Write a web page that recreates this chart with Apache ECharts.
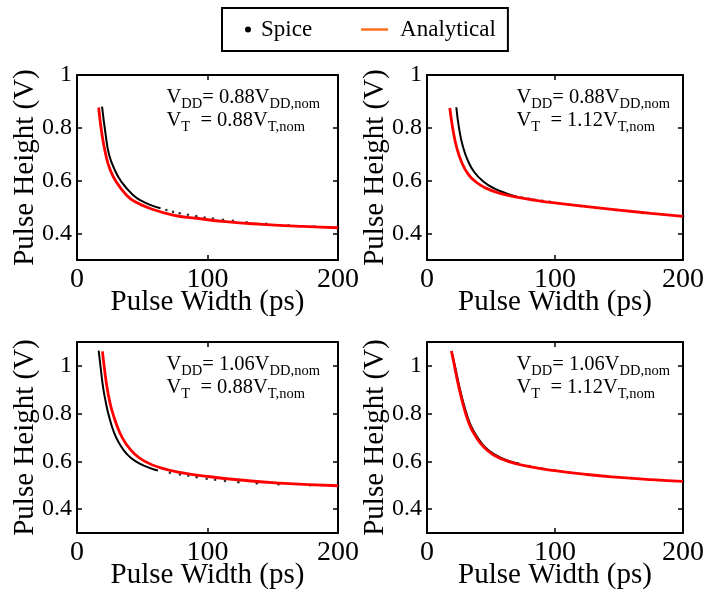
<!DOCTYPE html>
<html>
<head>
<meta charset="utf-8">
<script src="https://cdn.jsdelivr.net/npm/echarts@6/dist/echarts.min.js"></script>
<style>
  html, body { margin: 0; padding: 0; background: #fff; }
  #chart { width: 707px; height: 593px; }
</style>
</head>
<body>
<div id="chart"></div>
<script>
// Axis ticks
const xTicks = [0, 100, 200];
const yTicks = [0.4, 0.6, 0.8, 1];
const yMaxTop = 1;
const yMaxBottom = 1.1;
const yMin = 0.3;

// Supply / threshold scaling factors for the four corners
const vddFactors = ['0.88', '0.88', '1.06', '1.06'];
const vtFactors = ['0.88', '1.12', '0.88', '1.12'];

// Panel A: VDD = 0.88 VDD,nom, VT = 0.88 VT,nom  [pulse width (ps), pulse height (V)]
const analyticalA = [[16.6,0.877],[19.2,0.773],[22,0.70],[25,0.647],[30,0.596],[37.8,0.546],[44.2,0.521],[55.7,0.496],[73.6,0.470],[91.4,0.458],[114,0.445],[142,0.435],[173,0.427],[200,0.422]];
const spiceLineA = [[19.2,0.880],[22,0.773],[24.5,0.70],[28.4,0.647],[34,0.596],[42.9,0.546],[50.6,0.521],[58,0.505],[64,0.496]];
const spiceDotsA = [[68.5,0.489],[73.6,0.482],[78.7,0.477],[85,0.471],[91.4,0.466],[97.8,0.461],[104.2,0.457],[111.9,0.452],[119.5,0.448],[130,0.443],[145,0.437],[162,0.431],[182,0.427],[200,0.423]];

// Panel B: VDD = 0.88 VDD,nom, VT = 1.12 VT,nom
const analyticalB = [[17.8,0.875],[20.4,0.79],[23.5,0.72],[27,0.671],[32,0.626],[38,0.596],[46,0.572],[57,0.552],[70,0.538],[85,0.526],[100,0.516],[125,0.502],[150,0.489],[175,0.4765],[200,0.465]];
const spiceLineB = [[22.9,0.878],[25,0.80],[28,0.73],[32,0.675],[37,0.632],[44,0.597],[52,0.572],[62,0.552],[70,0.540]];
const spiceDotsB = [[74,0.536],[79,0.532],[84,0.528],[90,0.524],[96,0.520],[103,0.515],[111,0.510],[120,0.504],[132,0.497],[148,0.489],[168,0.478],[200,0.466]];

// Panel C: VDD = 1.06 VDD,nom, VT = 0.88 VT,nom
const analyticalC = [[19.5,1.061],[21,0.99],[23,0.91],[25.1,0.85],[27.5,0.80],[32.8,0.72],[38,0.67],[44,0.632],[52,0.60],[63.5,0.574],[80,0.553],[100,0.537],[125,0.522],[155,0.509],[200,0.498]];
const spiceLineC = [[16.6,1.064],[18.2,0.99],[20,0.91],[22,0.85],[24,0.80],[28.4,0.72],[33,0.67],[38,0.632],[45,0.60],[55,0.574],[62,0.562]];
const spiceDotsC = [[71.2,0.552],[78.9,0.545],[85.3,0.540],[91.7,0.534],[99.4,0.527],[105.8,0.523],[113.4,0.518],[123.7,0.513],[137.8,0.508],[154.4,0.504],[178.7,0.500],[200,0.497]];

// Panel D: VDD = 1.06 VDD,nom, VT = 1.12 VT,nom
const analyticalD = [[19.1,1.062],[21.8,0.99],[24.7,0.915],[27.6,0.85],[30.2,0.80],[33.5,0.75],[37.4,0.71],[44,0.662],[52,0.627],[64,0.599],[80,0.578],[100,0.561],[125,0.545],[150,0.533],[175,0.5235],[200,0.516]];
const spiceLineD = [[19.1,1.062],[22.2,0.99],[25.2,0.915],[28.2,0.85],[30.9,0.80],[34.3,0.75],[38.3,0.71],[45,0.662],[53,0.628],[65,0.60],[72,0.591]];
const spiceDotsD = [[80,0.580],[90,0.570],[100,0.562],[112,0.553],[125,0.546],[140,0.539],[160,0.530],[180,0.522],[200,0.516]];

const analyticalSets = [analyticalA, analyticalB, analyticalC, analyticalD];
const spiceLineSets = [spiceLineA, spiceLineB, spiceLineC, spiceLineD];
const spiceDotSets = [spiceDotsA, spiceDotsB, spiceDotsC, spiceDotsD];

const FONT = 'Liberation Serif';
const BLACK = '#000';
const RED = '#ff0000';

const gridBoxes = [
  { left: 77, top: 75, width: 261, height: 185 },
  { left: 427, top: 75, width: 262, height: 185 },
  { left: 77, top: 342, width: 261, height: 191 },
  { left: 427, top: 342, width: 262, height: 191 }
];

const grid = [], xAxis = [], yAxis = [], series = [], graphic = [];

gridBoxes.forEach((g, i) => {
  const yMax = i < 2 ? yMaxTop : yMaxBottom;
  grid.push({ left: g.left, top: g.top, width: g.width, height: g.height, containLabel: false });

  const tickStyle = { show: true, inside: true, length: 5, lineStyle: { color: BLACK, width: 1.5 } };
  const lineStyle = { show: true, onZero: false, lineStyle: { color: BLACK, width: 2 } };

  xAxis.push({
    type: 'value', gridIndex: i, min: 0, max: 200, position: 'bottom',
    axisLine: lineStyle,
    axisTick: Object.assign({ customValues: xTicks }, tickStyle),
    axisLabel: { customValues: xTicks, fontFamily: FONT, fontSize: 28, color: BLACK, margin: 6 },
    splitLine: { show: false },
    name: 'Pulse Width (ps)', nameLocation: 'middle', nameGap: 28, nameMoveOverlap: false,
    nameTextStyle: { fontFamily: FONT, fontSize: 29, color: BLACK, verticalAlign: 'top' }
  });
  xAxis.push({
    type: 'value', gridIndex: i, min: 0, max: 200, position: 'top',
    axisLine: lineStyle,
    axisTick: Object.assign({ customValues: xTicks }, tickStyle),
    axisLabel: { show: false },
    splitLine: { show: false }
  });
  yAxis.push({
    type: 'value', gridIndex: i, min: yMin, max: yMax, position: 'left',
    axisLine: lineStyle,
    axisTick: Object.assign({ customValues: yTicks }, tickStyle),
    axisLabel: { customValues: yTicks, fontFamily: FONT, fontSize: 24, color: BLACK, margin: 5 },
    splitLine: { show: false },
    name: 'Pulse Height (V)', nameLocation: 'middle', nameGap: 37, nameMoveOverlap: false,
    nameTextStyle: { fontFamily: FONT, fontSize: 29, color: BLACK }
  });
  yAxis.push({
    type: 'value', gridIndex: i, min: yMin, max: yMax, position: 'right',
    axisLine: lineStyle,
    axisTick: Object.assign({ customValues: yTicks }, tickStyle),
    axisLabel: { show: false },
    splitLine: { show: false }
  });

  series.push({
    name: 'Spice', type: 'line', xAxisIndex: 2 * i, yAxisIndex: 2 * i,
    data: spiceLineSets[i], smooth: 0.5, showSymbol: false,
    lineStyle: { color: BLACK, width: 2 }, itemStyle: { color: BLACK }, z: 2
  });
  series.push({
    name: 'Spice', type: 'scatter', xAxisIndex: 2 * i, yAxisIndex: 2 * i,
    data: spiceDotSets[i], symbol: 'circle', symbolSize: 2.6,
    itemStyle: { color: BLACK }, z: 2
  });
  series.push({
    name: 'Analytical', type: 'line', xAxisIndex: 2 * i, yAxisIndex: 2 * i,
    data: analyticalSets[i], smooth: 0.5, showSymbol: false,
    lineStyle: { color: RED, width: 2.8 }, itemStyle: { color: RED }, z: 3
  });

  const rich = {
    m: { fontFamily: FONT, fontSize: 20.5, color: BLACK, lineHeight: 28 },
    s: { fontFamily: FONT, fontSize: 14.5, color: BLACK, lineHeight: 14, verticalAlign: 'bottom' }
  };
  graphic.push({
    type: 'text', left: g.left + 89.5, top: g.top + 12, z: 10,
    style: { text: '{m|V}{s|DD}{m|= ' + vddFactors[i] + 'V}{s|DD,nom}', rich: rich }
  });
  graphic.push({
    type: 'text', left: g.left + 89.5, top: g.top + 35.5, z: 10,
    style: { text: '{m|V}{s|T}{m|  = ' + vtFactors[i] + 'V}{s|T,nom}', rich: rich }
  });
});

const chart = echarts.init(document.getElementById('chart'), null, { renderer: 'canvas' });
chart.setOption({
  animation: false,
  backgroundColor: '#fff',
  legend: {
    left: 222, top: 8,
    padding: [10, 12, 10, 0],
    borderColor: BLACK, borderWidth: 2,
    itemGap: 49, itemWidth: 34, itemHeight: 6,
    symbolKeepAspect: false,
    textStyle: { fontFamily: FONT, fontSize: 23, color: BLACK },
    data: [
      { name: 'Spice', icon: 'path://M0,0M34,6M23,3A3,3 0 1,1 29,3A3,3 0 1,1 23,3Z', itemStyle: { color: BLACK, borderWidth: 0 } },
      { name: 'Analytical', icon: 'path://M0,0M34,6M0,1.8H27V4.2H0Z', itemStyle: { color: '#ff6a1a', borderWidth: 0 } }
    ]
  },
  grid: grid,
  xAxis: xAxis,
  yAxis: yAxis,
  series: series,
  graphic: graphic
});
</script>
</body>
</html>
